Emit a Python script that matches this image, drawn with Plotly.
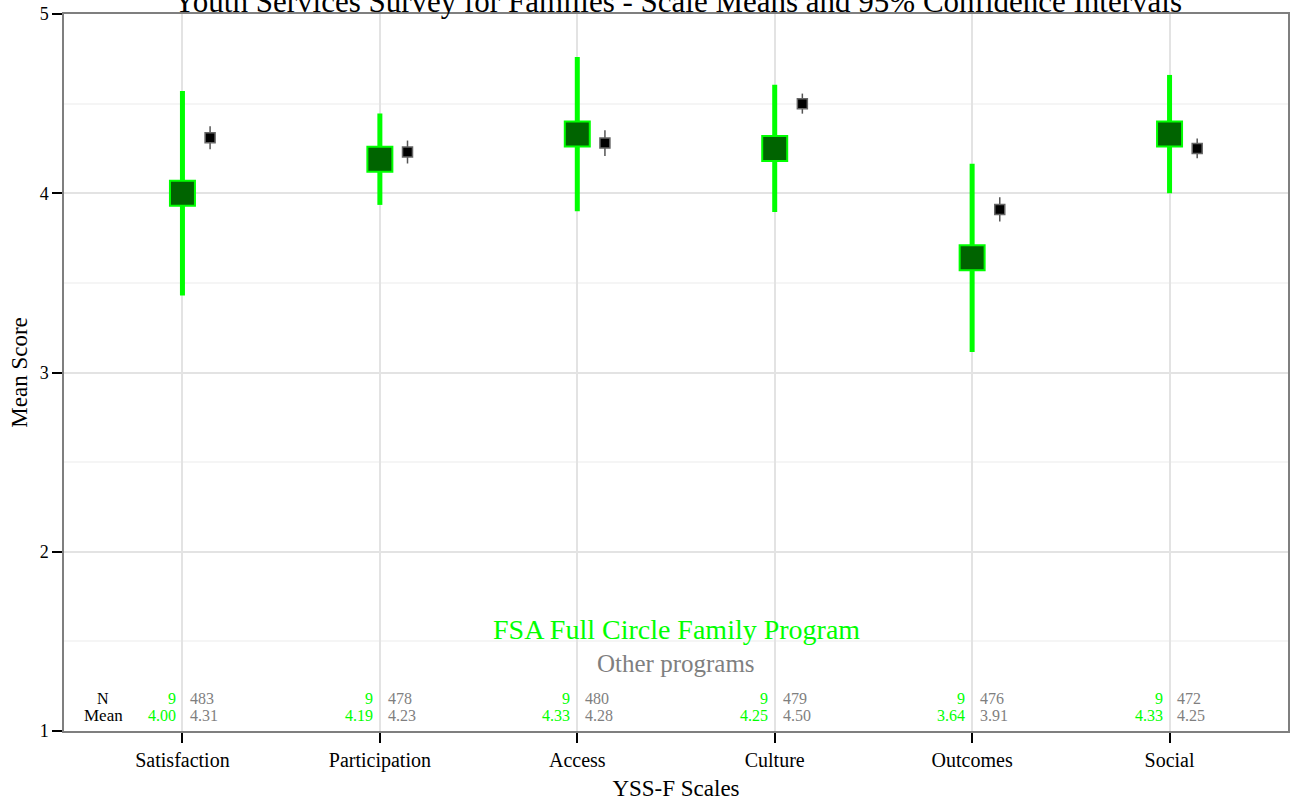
import plotly.graph_objects as go

categories = ["Satisfaction", "Participation", "Access", "Culture", "Outcomes", "Social"]
prog_n = [9, 9, 9, 9, 9, 9]
prog_mean = [4.00, 4.19, 4.33, 4.25, 3.64, 4.33]
prog_ci = [0.57, 0.255, 0.43, 0.355, 0.525, 0.33]
other_n = [483, 478, 480, 479, 476, 472]
other_mean = [4.31, 4.23, 4.28, 4.50, 3.91, 4.25]
other_ci = [0.064, 0.064, 0.072, 0.056, 0.067, 0.055]

FONT = "Liberation Serif"
GREEN = "#00FF00"
DARK = "#006400"
GRAY = "#7f7f7f"

xs = list(range(1, len(categories) + 1))
offset = 0.14
xs_other = [x + offset for x in xs]

fig = go.Figure()
fig.add_trace(go.Scatter(
    x=xs, y=prog_mean, mode="markers",
    marker=dict(symbol="square", size=25, color=DARK, line=dict(color=GREEN, width=2)),
    error_y=dict(type="data", array=prog_ci, symmetric=True, thickness=5, width=0, color=GREEN),
    showlegend=False, hoverinfo="skip"))
fig.add_trace(go.Scatter(
    x=xs_other, y=other_mean, mode="markers",
    marker=dict(symbol="square", size=10, color="black", line=dict(color="#666666", width=1.5)),
    error_y=dict(type="data", array=other_ci, symmetric=True, thickness=1.5, width=0, color="#555555"),
    showlegend=False, hoverinfo="skip"))

SMALL = 16
ann = []
y_n, y_mean = 1.184, 1.084
ann.append(dict(x=0.6, y=y_n, text="N", showarrow=False, xanchor="center", yanchor="middle",
                font=dict(family=FONT, size=SMALL, color="black")))
ann.append(dict(x=0.6, y=y_mean, text="Mean", showarrow=False, xanchor="center", yanchor="middle",
                font=dict(family=FONT, size=SMALL + 1, color="black")))
for x, n1, m1, n2, m2 in zip(xs, prog_n, prog_mean, other_n, other_mean):
    ann.append(dict(x=x - 0.025, y=y_n, text=str(n1), showarrow=False, xanchor="right", yanchor="middle",
                    font=dict(family=FONT, size=SMALL, color=GREEN)))
    ann.append(dict(x=x - 0.025, y=y_mean, text=f"{m1:.2f}", showarrow=False, xanchor="right", yanchor="middle",
                    font=dict(family=FONT, size=SMALL, color=GREEN)))
    ann.append(dict(x=x + 0.03, y=y_n, text=str(n2), showarrow=False, xanchor="left", yanchor="middle",
                    font=dict(family=FONT, size=SMALL, color=GRAY)))
    ann.append(dict(x=x + 0.03, y=y_mean, text=f"{m2:.2f}", showarrow=False, xanchor="left", yanchor="middle",
                    font=dict(family=FONT, size=SMALL, color=GRAY)))
ann.append(dict(x=3.5, y=1.569, text="FSA Full Circle Family Program", showarrow=False,
                xanchor="center", yanchor="middle", font=dict(family=FONT, size=28, color=GREEN)))
ann.append(dict(x=3.5, y=1.374, text="Other programs", showarrow=False,
                xanchor="center", yanchor="middle", font=dict(family=FONT, size=25, color=GRAY)))

fig.update_layout(
    width=1291, height=804,
    margin=dict(l=64, r=3, t=14, b=73),
    plot_bgcolor="white", paper_bgcolor="white",
    font=dict(family=FONT, color="black"),
    title=dict(text="Youth Services Survey for Families - Scale Means and 95% Confidence Intervals",
               x=0.525, xanchor="center", y=0.998, yref="container", yanchor="middle",
               font=dict(family=FONT, size=31, color="black")),
    annotations=ann,
    xaxis=dict(
        tickmode="array", tickvals=xs, ticktext=categories, range=[0.4, 6.6],
        showgrid=True, gridcolor="#e3e3e3", gridwidth=2,
        showline=True, linecolor="#7f7f7f", linewidth=1.5, mirror=True,
        ticks="outside", ticklen=10, tickwidth=2, tickcolor="black",
        tickfont=dict(family=FONT, size=20, color="black"),
        title=dict(text="YSS-F Scales", font=dict(family=FONT, size=23, color="black"), standoff=9),
        zeroline=False, automargin=False),
    yaxis=dict(
        range=[1, 5], tickvals=[1, 2, 3, 4, 5],
        showgrid=True, gridcolor="#e3e3e3", gridwidth=2,
        minor=dict(tickvals=[1.5, 2.5, 3.5, 4.5], showgrid=True, gridcolor="#f5f5f5", gridwidth=2, ticks=""),
        showline=True, linecolor="#7f7f7f", linewidth=1.5, mirror=True,
        ticks="outside", ticklen=10, tickwidth=2, tickcolor="black",
        tickfont=dict(family=FONT, size=18, color="black"),
        title=dict(text="Mean Score", font=dict(family=FONT, size=23, color="black"), standoff=6),
        zeroline=False, automargin=False),
)

fig.write_html("out.html", config={"displayModeBar": False},
               post_script="document.body.style.margin='0';")
